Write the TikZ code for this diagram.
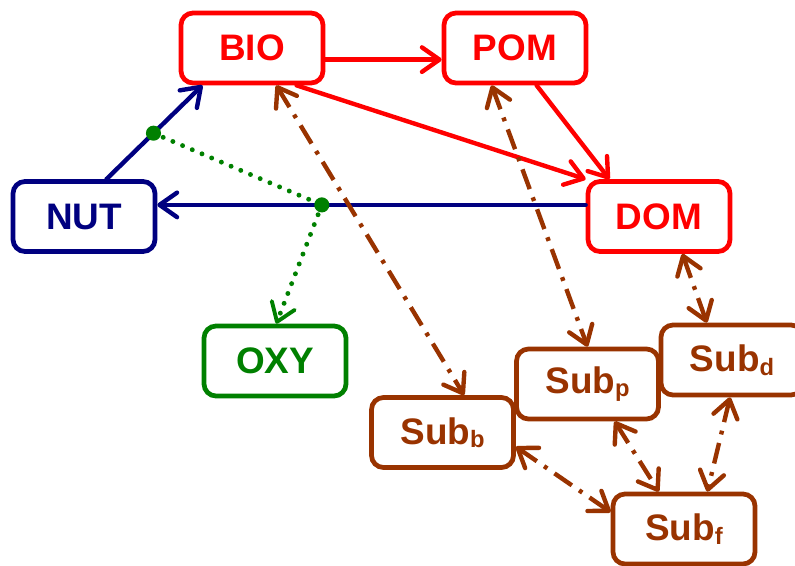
\documentclass[tikz,border=0pt]{standalone}
\usepackage{fontspec}
\setmainfont{Liberation Sans}
\usetikzlibrary{arrows.meta}

\definecolor{navy}{RGB}{0,0,128}
\definecolor{leaf}{RGB}{0,128,0}
\definecolor{rust}{RGB}{153,51,0}

\tikzset{
  pool/.style={draw=#1, text=#1, fill=white, line width=2.7pt, rounded corners=0.24cm,
    minimum width=2.84cm, minimum height=1.40cm,
    font=\fontsize{21}{24}\selectfont\bfseries},
  barb/.tip={Straight Barb[length=3.5mm, width=4.9mm, round]},
  flux/.style={line width=2.5pt, line cap=round, -barb},
  react/.style={leaf, line width=2.8pt, line cap=round, dash pattern=on 0pt off 6pt},
  exch/.style={rust, line width=2.5pt, dash pattern=on 12pt off 5pt on 2.2pt off 5pt, barb-barb},
}
\newcommand{\subname}[1]{Sub\raisebox{-2pt}{\fontsize{13.5}{14}\selectfont #1}}

\begin{document}
\begin{tikzpicture}[x=0.02cm, y=-0.02cm]
  \useasboundingbox (0,0) rectangle (795,565);

  % pools
  \node[pool=red] (BIO) at (252,48) {BIO};
  \node[pool=red] (POM) at (515,48) {POM};
  \node[pool=red] (DOM) at (659,216.5) {DOM};
  \node[pool=navy] (NUT) at (84,216.5) {NUT};
  \node[pool=leaf] (OXY) at (275,361) {OXY};
  \node[pool=rust] (Subb) at (442.5,432.5) {\subname{b}};
  \node[pool=rust] (Subp) at (587.5,384) {\subname{p}};
  \node[pool=rust] (Subd) at (732,360) {\subname{d}};
  \node[pool=rust] (Subf) at (684,529) {\subname{f}};

  % fluxes
  \draw[flux, red] (BIO.-9) -- (POM.189);
  \draw[flux, red] (BIO.-40) -- (DOM.north west);
  \draw[flux, red] (POM.-60) -- (DOM.143);
  \draw[flux, navy] (DOM.171) -- coordinate[pos=0.616] (r2) (NUT.9);
  \draw[flux, navy] (NUT.59) -- coordinate[pos=0.49] (r1) (BIO.217);

  % oxygen
  \draw[react] (r1) -- (r2);
  \draw[react, -{Straight Barb[length=3.5mm, width=4.9mm, round, line width=2.2pt]}] (r2) -- (OXY.88);
  \fill[leaf] (r1) circle (4.3pt);
  \fill[leaf] (r2) circle (4.3pt);

  % exchanges
  \draw[exch] (BIO.-57) -- (Subb.60);
  \draw[exch] (POM.-122) -- (Subp.north);
  \draw[exch] (DOM.-58) -- (Subd.124);
  \draw[exch] (Subb.-11) -- (Subf.167);
  \draw[exch] (Subp.-54) -- (Subf.124);
  \draw[exch] (Subd.-93) -- (Subf.58);
\end{tikzpicture}
\end{document}
